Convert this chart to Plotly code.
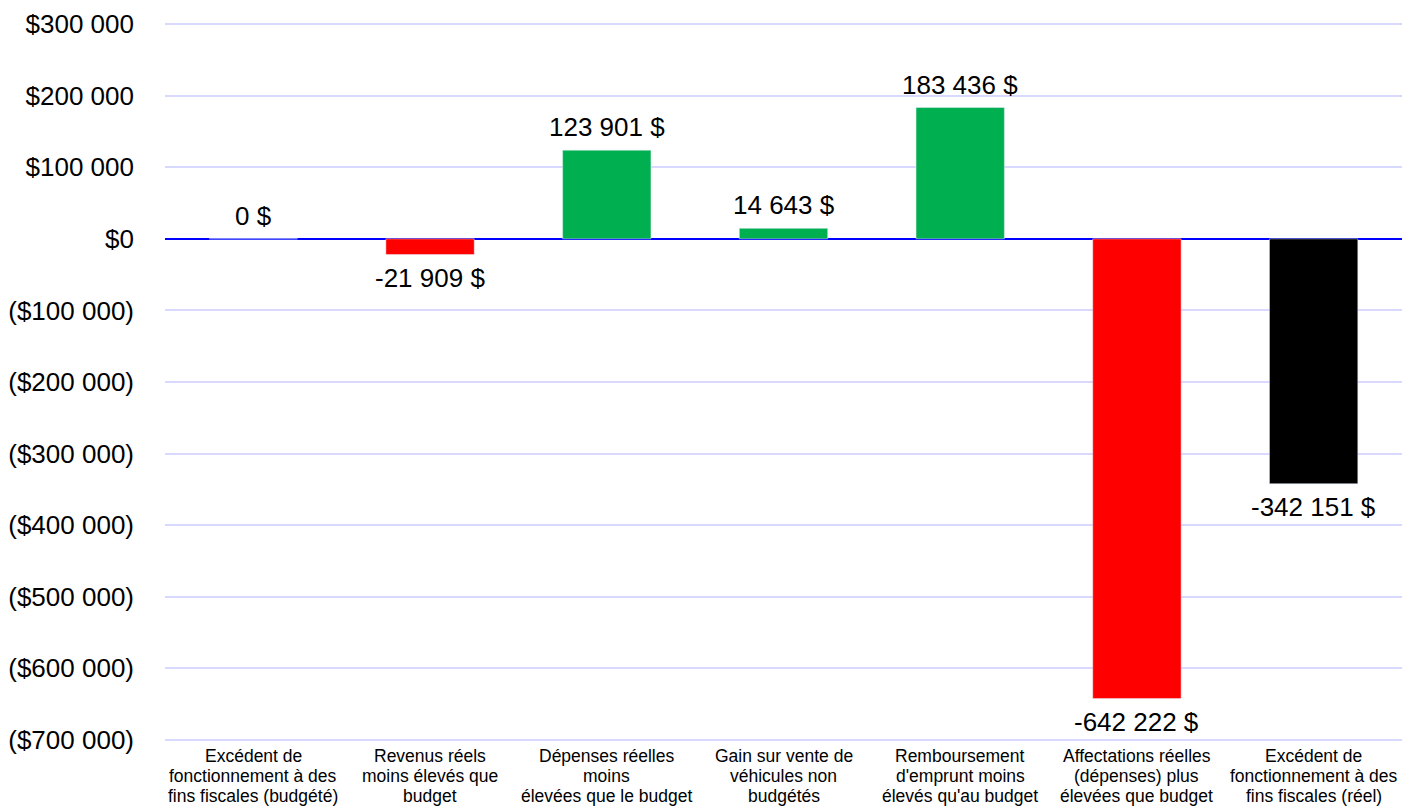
import plotly.graph_objects as go

categories = [
    "Excédent de<br>fonctionnement à des<br>fins fiscales (budgété)",
    "Revenus réels<br>moins élevés que<br>budget",
    "Dépenses réelles<br>moins<br>élevées que le budget",
    "Gain sur vente de<br>véhicules non<br>budgétés",
    "Remboursement<br>d'emprunt moins<br>élevés qu'au budget",
    "Affectations réelles<br>(dépenses) plus<br>élevées que budget",
    "Excédent de<br>fonctionnement à des<br>fins fiscales (réel)",
]
values = [0, -21909, 123901, 14643, 183436, -642222, -342151]
labels = ["0 $", "-21 909 $", "123 901 $", "14 643 $", "183 436 $", "-642 222 $", "-342 151 $"]
bar_colors = ["#00b050", "#ff0000", "#00b050", "#00b050", "#00b050", "#ff0000", "#000000"]

tick_vals = [300000, 200000, 100000, 0, -100000, -200000, -300000, -400000, -500000, -600000, -700000]
tick_text = ["$300 000", "$200 000", "$100 000", "$0", "($100 000)", "($200 000)", "($300 000)",
             "($400 000)", "($500 000)", "($600 000)", "($700 000)"]

fig = go.Figure(go.Bar(
    x=categories, y=values, marker_color=bar_colors, width=0.5,
))

# value labels, a bit further from the bar ends than plotly's own outside text
for cat, val, lab in zip(categories, values, labels):
    up = val >= 0
    fig.add_annotation(
        x=cat, y=val, text=lab, showarrow=False,
        yanchor="bottom" if up else "top", yshift=6 if up else -6,
        font=dict(size=26, color="black"),
    )

# category labels, one annotation per line to keep the tight line spacing
for cat in categories:
    for i, line in enumerate(cat.split("<br>")):
        fig.add_annotation(
            x=cat, y=0, xref="x", yref="paper", text=line, showarrow=False,
            yanchor="top", yshift=-3 - 20 * i, font=dict(size=17.5, color="black"),
        )

# page body adds an 8px offset, so the figure is sized to fit inside it
fig.update_layout(
    width=1394, height=799, plot_bgcolor="white", paper_bgcolor="white",
    margin=dict(l=157, r=0, t=15, b=66),
    font=dict(family="Liberation Sans, Arial, sans-serif", color="black"),
    showlegend=False,
)
fig.update_yaxes(
    range=[-701500, 301500], tickvals=tick_vals, ticktext=tick_text,
    tickfont=dict(size=26), gridcolor="#d9d9ff", gridwidth=2,
    zeroline=True, zerolinecolor="#0000ff", zerolinewidth=2,
    ticks="", ticklabelstandoff=30, automargin=False,
)
fig.update_xaxes(showticklabels=False, showline=False, ticks="", automargin=False)

fig.write_html("out.html")
